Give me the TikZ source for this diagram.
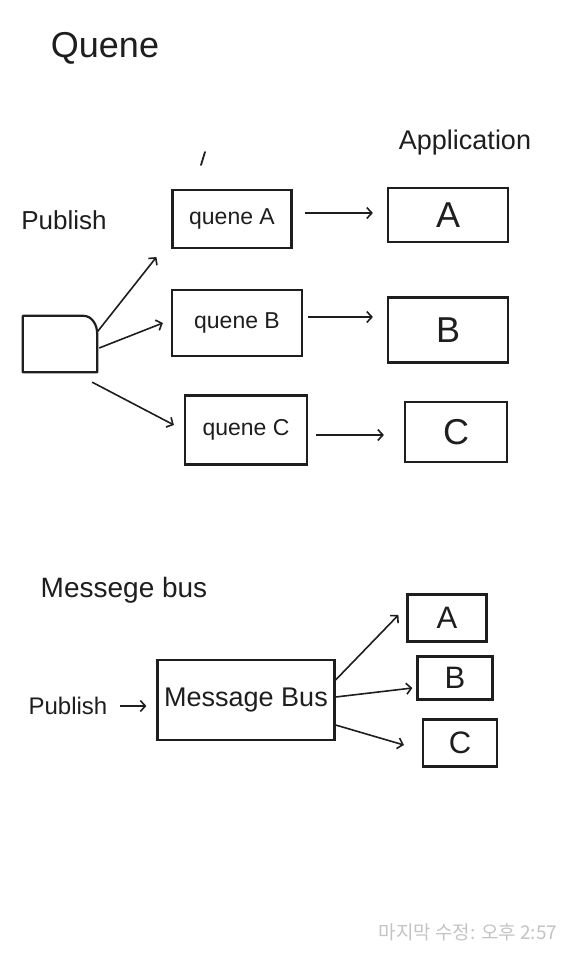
\documentclass[tikz,border=0pt]{standalone}
\usepackage{fontspec}
\setmainfont{Liberation Sans}
\newfontfamily\krfont{Noto Sans CJK KR}
\usetikzlibrary{arrows.meta,calc}
\definecolor{ink}{HTML}{1E1E1E}
\definecolor{stamp}{HTML}{C4C4C4}
\tikzset{
  box/.style={draw=ink, line width=2.2pt, rectangle, inner sep=0pt, text=ink},
  arr/.style={draw=ink, line width=1.6pt, -{Straight Barb[length=5pt,width=11pt]}},
  lbl/.style={text=ink, inner sep=0pt},
}
\begin{document}
\begin{tikzpicture}[x=1pt,y=-1pt]
\fill[white] (0,0) rectangle (574,960);
\useasboundingbox (0,0) rectangle (574,960);

% ---- Queue section ----
\node[lbl, font=\fontsize{36}{40}\selectfont] (title1) at (105,48) {Quene};
\node[lbl, font=\fontsize{27}{31}\selectfont] (app) at (465,143) {Application};
\draw[ink, line width=1.8pt, line cap=round] (201,165) -- (205,152);
\node[lbl, font=\fontsize{26}{30}\selectfont] (pubt) at (64,220) {Publish};

% publisher box
\node[minimum width=74pt, minimum height=56pt, inner sep=0pt] (pub) at (60,344) {};
\draw[ink, line width=2.2pt, line join=round]
  (pub.south west) -- (pub.north west) -- ($(pub.north east)+(-14,0)$)
  to[out=0,in=90] ($(pub.north east)+(0,18)$) -- (pub.south east) -- cycle;

% queues
\node[box, minimum width=119pt, minimum height=58pt, font=\fontsize{23}{27}\selectfont] (qa) at (232,219) {quene A};
\node[box, minimum width=130pt, minimum height=66pt, font=\fontsize{23}{27}\selectfont] (qb) at (237,323) {quene B};
\node[box, minimum width=122pt, minimum height=69pt, font=\fontsize{23}{27}\selectfont] (qc) at (246,430) {quene C};

% applications
\node[box, minimum width=120pt, minimum height=54pt, font=\fontsize{36}{40}\selectfont] (aa) at (448,215) {A};
\node[box, minimum width=120pt, minimum height=65pt, font=\fontsize{36}{40}\selectfont] (ab) at (448,330) {B};
\node[box, minimum width=102pt, minimum height=60pt, font=\fontsize{36}{40}\selectfont] (ac) at (456,432) {C};

% connectors
\draw[arr] ($(pub.east)+(0,-12)$) -- ($(qa.south west)+(-15,8)$);
\draw[arr] ($(pub.east)+(2,4)$) -- ($(qb.west)+(-8,0)$);
\draw[arr] ($(pub.south east)+(-5,10)$) -- ($(qc.west)+(-10,-5)$);
\draw[arr, shorten <=12pt, shorten >=14pt] ($(qa.east)+(0,-6)$) -- ($(aa.west)+(0,-2)$);
\draw[arr, shorten <=5pt, shorten >=14pt] ($(qb.east)+(0,-6)$) -- ($(ab.west)+(0,-13)$);
\draw[arr, shorten <=8pt, shorten >=20pt] ($(qc.east)+(0,5)$) -- ($(ac.west)+(0,3)$);

% ---- Message bus section ----
\node[lbl, font=\fontsize{28}{32}\selectfont] (title2) at (124,590) {Messege bus};
\node[lbl, font=\fontsize{24}{28}\selectfont] (pub2) at (68,706) {Publish};
\node[box, minimum width=177pt, minimum height=80pt, font=\fontsize{27}{31}\selectfont] (bus) at (246,700) {Message Bus};
\node[box, minimum width=79pt, minimum height=47pt, font=\fontsize{31}{35}\selectfont] (sa) at (447,618) {A};
\node[box, minimum width=75pt, minimum height=43pt, font=\fontsize{31}{35}\selectfont] (sb) at (455,678) {B};
\node[box, minimum width=74pt, minimum height=47pt, font=\fontsize{31}{35}\selectfont] (sc) at (460,743) {C};

\draw[arr, shorten <=12pt, shorten >=10pt] (pub2.east) -- (bus.west |- pub2.east);
\draw[arr] ($(bus.east)+(0,-20)$) -- ($(sa.west)+(-8,-3)$);
\draw[arr] ($(bus.east)+(0,-3)$) -- ($(sb.west)+(-4,10)$);
\draw[arr] ($(bus.east)+(0,25)$) -- ($(sc.west)+(-18,2)$);

% ---- timestamp ----
\node[text=stamp, inner sep=0pt, font=\krfont\fontsize{19}{22}\selectfont] (stamp) at (468,932) {마지막 수정: 오후 2:57};
\end{tikzpicture}
\end{document}
